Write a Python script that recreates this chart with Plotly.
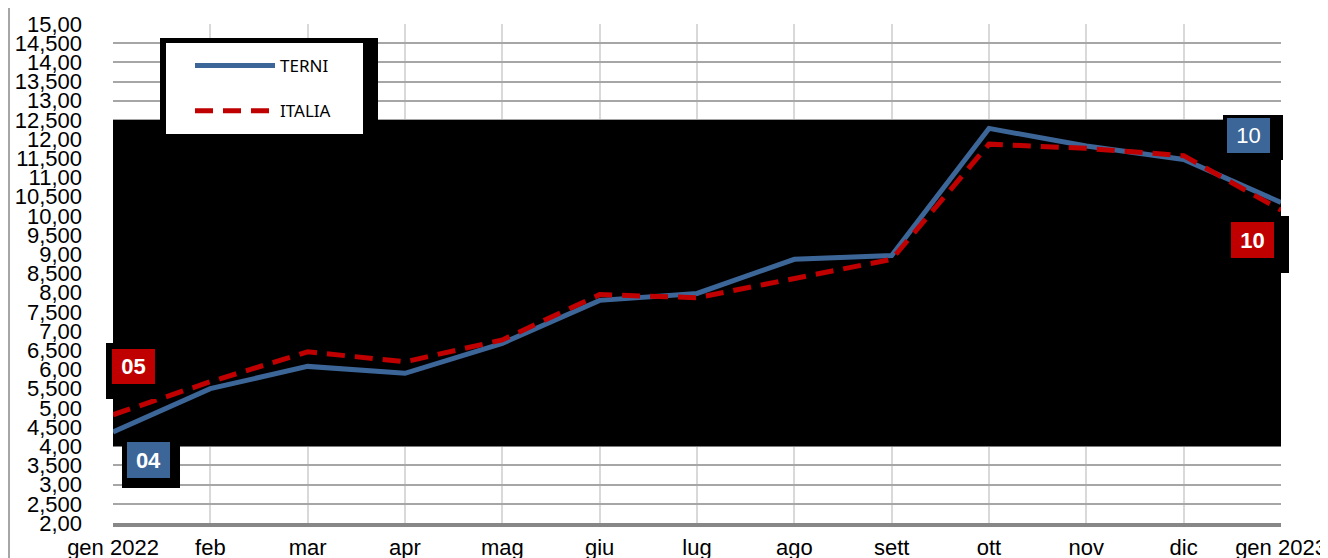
import plotly.graph_objects as go

categories = ["gen 2022", "feb", "mar", "apr", "mag", "giu", "lug", "ago",
              "sett", "ott", "nov", "dic", "gen 2023"]
terni = [4.37, 5.50, 6.08, 5.90, 6.68, 7.80, 7.98, 8.87, 8.97, 12.28, 11.82, 11.47, 10.35]
italia = [4.82, 5.68, 6.46, 6.20, 6.77, 7.95, 7.87, 8.38, 8.87, 11.87, 11.76, 11.57, 10.15]

y_tickvals = [2 + 0.5 * i for i in range(27)]
y_ticktext = ["2,00", "2,500", "3,00", "3,500", "4,00", "4,500", "5,00", "5,500",
              "6,00", "6,500", "7,00", "7,500", "8,00", "8,500", "9,00", "9,500",
              "10,00", "10,500", "11,00", "11,500", "12,00", "12,500", "13,00",
              "13,500", "14,00", "14,500", "15,00"]

label_terni = ["04", "10"]
label_italia = ["05", "10"]

BLUE = "#3C6598"
RED = "#C00000"

OFF = 8  # page body margin
W, H = 1328 - OFF, 558 - OFF
# plot area in window pixels
L, R, T, B = 113, 1281, 24, 523


def pxx(p):
    return (p - L) / (R - L)


def pxy(p):
    return (B - p) / (B - T)


fig = go.Figure()
fig.add_trace(go.Scatter(x=categories, y=terni, mode="lines", name="TERNI",
                         legendgroup="a",
                         line=dict(color=BLUE, width=5)))
fig.add_trace(go.Scatter(x=categories, y=italia, mode="lines", name="ITALIA",
                         legendgroup="b",
                         line=dict(color=RED, width=5, dash="18px,10px")))

shapes = []
shapes.append(dict(type="rect", xref="x", yref="y", x0=-0.02, x1=12.02,
                   y0=4.0, y1=12.5, fillcolor="black", line_width=0, layer="between"))
shapes.append(dict(type="rect", xref="paper", yref="paper", x0=pxx(160), x1=pxx(378),
                   y0=pxy(140), y1=pxy(38), fillcolor="black", line_width=0, layer="above"))
shapes.append(dict(type="rect", xref="paper", yref="paper", x0=pxx(166), x1=pxx(363),
                   y0=pxy(134), y1=pxy(43), fillcolor="white", line_width=0, layer="above"))
for (x0, x1, y0, y1) in [(106, 158, 343, 399), (122, 180, 442, 488),
                         (1223, 1283, 115, 160), (1223, 1289, 216, 273)]:
    shapes.append(dict(type="rect", xref="paper", yref="paper", x0=pxx(x0), x1=pxx(x1),
                       y0=pxy(y1), y1=pxy(y0), fillcolor="black", line_width=0, layer="above"))
shapes.append(dict(type="line", xref="paper", yref="paper", x0=pxx(9), x1=pxx(9),
                   y0=pxy(560), y1=pxy(0), line=dict(color="#A6A6A6", width=2)))

annotations = []
lab_font = dict(family="Liberation Sans, Arial", size=22, color="white")
annotations.append(dict(x=categories[0], y=terni[0], text="<b>%s</b>" % label_terni[0],
                        showarrow=False, xshift=35.5, yshift=-28, width=43, height=36,
                        bgcolor=BLUE, borderpad=0, borderwidth=0, font=lab_font))
annotations.append(dict(x=categories[-1], y=terni[-1], text=label_terni[1],
                        showarrow=False, xshift=-32.5, yshift=66.5, width=43, height=35,
                        bgcolor=BLUE, borderpad=0, borderwidth=0, font=lab_font))
annotations.append(dict(x=categories[0], y=italia[0], text="<b>%s</b>" % label_italia[0],
                        showarrow=False, xshift=20.5, yshift=48.5, width=43, height=35,
                        bgcolor=RED, borderpad=0, borderwidth=0, font=lab_font))
annotations.append(dict(x=categories[-1], y=italia[-1], text="<b>%s</b>" % label_italia[1],
                        showarrow=False, xshift=-28.5, yshift=-30, width=43, height=36,
                        bgcolor=RED, borderpad=0, borderwidth=0, font=lab_font))

fig.update_layout(
    width=W, height=H,
    margin=dict(l=L - OFF, r=(W + OFF) - R, t=T - OFF, b=(H + OFF) - B, pad=0,
                autoexpand=False),
    paper_bgcolor="white", plot_bgcolor="white",
    font=dict(family="Liberation Sans, Arial", size=22, color="black"),
    showlegend=True,
    legend=dict(x=pxx(190), y=pxy(48), xanchor="left", yanchor="top",
                bgcolor="rgba(0,0,0,0)", borderwidth=0, itemwidth=80,
                tracegroupgap=20,
                font=dict(family="Noto Sans", size=17, color="black")),
    shapes=shapes,
    annotations=annotations,
)
fig.update_xaxes(type="category", range=[0, 12], showgrid=True, gridcolor="#D9D9D9",
                 gridwidth=2, showline=True, linecolor="#878787", linewidth=4,
                 ticks="", ticklabelstandoff=2, zeroline=False, automargin=False,
                 tickfont=dict(size=22))
fig.update_yaxes(range=[2, 15], tickvals=y_tickvals, ticktext=y_ticktext,
                 showgrid=True, gridcolor="#A6A6A6", gridwidth=2, zeroline=False,
                 showline=False, ticks="", ticklabelstandoff=30, automargin=False,
                 tickfont=dict(size=22))

fig.write_html("out.html")
